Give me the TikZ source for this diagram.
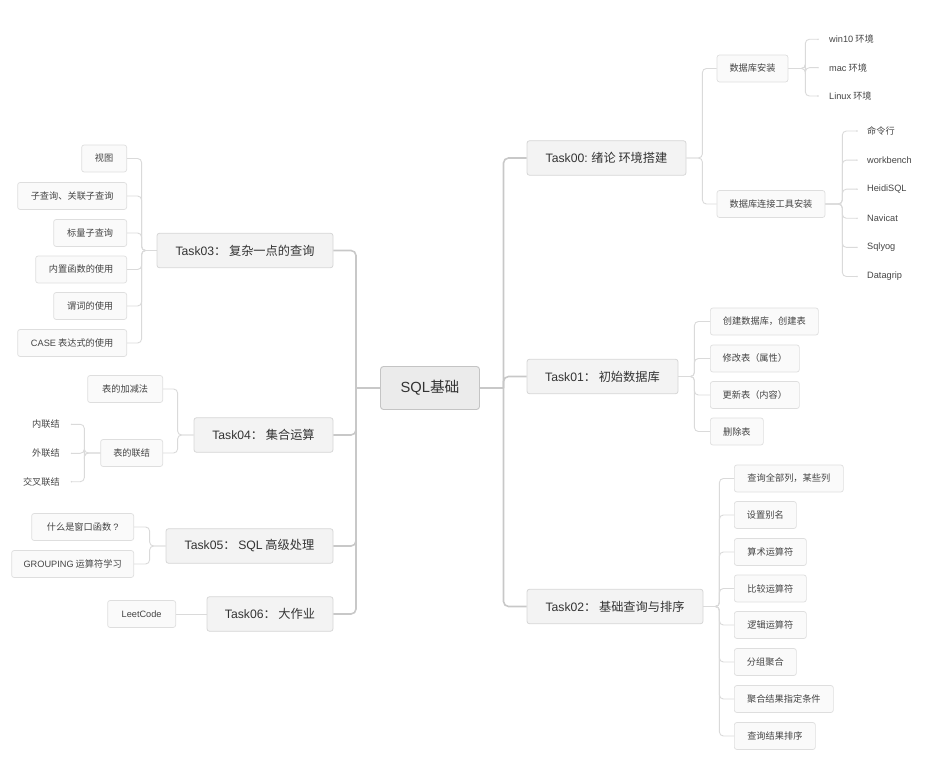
\documentclass[tikz,border=0pt]{standalone}
\usepackage{fontspec}
\setmainfont{Noto Sans CJK SC}
\newfontfamily\latf{Liberation Sans}
\newcommand{\lat}[1]{{\latf #1}}
\usetikzlibrary{calc}
\definecolor{txtc}{HTML}{333333}
\definecolor{leaftxt}{HTML}{444444}
\definecolor{taskfill}{HTML}{F3F3F3}
\definecolor{taskbd}{HTML}{D6D6D6}
\definecolor{rootfill}{HTML}{EBEBEB}
\definecolor{rootbd}{HTML}{C4C4C4}
\definecolor{leaffill}{HTML}{FAFAFA}
\definecolor{leafbd}{HTML}{DEDEDE}
\definecolor{trunkc}{HTML}{C8C8C8}
\definecolor{subc}{HTML}{DADADA}
\begin{document}
\begin{tikzpicture}[x=1pt,y=-1pt,
  rootbox/.style={draw=rootbd,fill=rootfill,rounded corners=3pt,line width=0.9pt,minimum width=99pt,minimum height=43pt,inner sep=0pt,font=\fontsize{14.7}{16}\selectfont,text=txtc},
  task/.style={draw=taskbd,fill=taskfill,rounded corners=2.5pt,line width=0.8pt,minimum height=34.5pt,inner sep=0pt,font=\fontsize{12.2}{14}\selectfont,text=txtc},
  leaf/.style={draw=leafbd,fill=leaffill,rounded corners=2.5pt,line width=0.7pt,minimum height=27pt,inner sep=0pt,font=\fontsize{9.2}{11}\selectfont,text=leaftxt},
  plain/.style={inner sep=0pt,font=\fontsize{9.2}{11}\selectfont,text=leaftxt},
  trunk/.style={draw=trunkc,line width=1.6pt,rounded corners=5pt},
  sub/.style={draw=subc,line width=0.9pt,rounded corners=4pt},
  tip/.style={fill=subc}
]
\useasboundingbox (0,0) rectangle (936,775);

% root
\node[rootbox] (root) at (430,388) {\lat{SQL}基础};

% tasks
\node[task,minimum width=159pt] (t0) at (606.5,158) {\lat{Task00:} 绪论 环境搭建};
\node[task,minimum width=151pt] (t1) at (602.5,376.5) {\lat{Task01}：\ 初始数据库};
\node[task,minimum width=176pt] (t2) at (615,606.5) {\lat{Task02}：\ 基础查询与排序};
\node[task,minimum width=176pt] (t3) at (245,250.5) {\lat{Task03}：\ 复杂一点的查询};
\node[task,minimum width=139pt] (t4) at (263.5,435) {\lat{Task04}：\ 集合运算};
\node[task,minimum width=167pt] (t5) at (249.5,546) {\lat{Task05}：\ \lat{SQL} 高级处理};
\node[task,minimum width=126pt] (t6) at (270,614) {\lat{Task06}：\ 大作业};

% trunks
\coordinate (tr) at (503.5,388);
\coordinate (tl) at (356,388);
\draw[trunk] (root.east) -- (tr);
\draw[trunk] (root.west) -- (tl);
\foreach \t in {t0,t1,t2} \draw[trunk] (tr) |- (\t.west);
\foreach \t in {t3,t4,t5,t6} \draw[trunk] (tl) |- (\t.east);

% Task00 children
\node[leaf,minimum width=71pt] (a1) at (752.5,68.5) {数据库安装};
\node[leaf,minimum width=108pt] (a2) at (771,204) {数据库连接工具安装};
\foreach \c in {a1,a2} \draw[sub] (t0.east) -- ++(16,0) |- (\c.west);

\node[plain,anchor=west] (w1) at (829,39.3) {\lat{win10} 环境};
\node[plain,anchor=west] (w2) at (829,67.7) {\lat{mac} 环境};
\node[plain,anchor=west] (w3) at (829,96) {\lat{Linux} 环境};
\foreach \c in {w1,w2,w3} {
  \draw[sub] (a1.east) -- ++(17,0) |- ([xshift=-11pt]\c.west);
  \fill[tip] ([xshift=-11pt]\c.west) circle (0.8pt);
}
\node[plain,anchor=west] (k1) at (867,131) {命令行};
\node[plain,anchor=west] (k2) at (867,160.1) {\lat{workbench}};
\node[plain,anchor=west] (k3) at (867,189.2) {\lat{HeidiSQL}};
\node[plain,anchor=west] (k4) at (867,218.3) {\lat{Navicat}};
\node[plain,anchor=west] (k5) at (867,247.4) {\lat{Sqlyog}};
\node[plain,anchor=west] (k6) at (867,276.5) {\lat{Datagrip}};
\foreach \c in {k1,k2,k3,k4,k5,k6} {
  \draw[sub] (a2.east) -- ++(17,0) |- ([xshift=-10pt]\c.west);
  \fill[tip] ([xshift=-10pt]\c.west) circle (0.8pt);
}

% Task01 children
\node[leaf,minimum width=108pt,anchor=west] (b1) at (710,321.5) {创建数据库，创建表};
\node[leaf,minimum width=89pt,anchor=west] (b2) at (710,358.5) {修改表（属性）};
\node[leaf,minimum width=89pt,anchor=west] (b3) at (710,395) {更新表（内容）};
\node[leaf,minimum width=53pt,anchor=west] (b4) at (710,431.5) {删除表};
\foreach \c in {b1,b2,b3,b4} \draw[sub] (t1.east) -- ++(16,0) |- (\c.west);

% Task02 children
\node[leaf,minimum width=109pt,anchor=west] (d1) at (734,478.5) {查询全部列，某些列};
\node[leaf,minimum width=62pt,anchor=west] (d2) at (734,515) {设置别名};
\node[leaf,minimum width=72pt,anchor=west] (d3) at (734,552) {算术运算符};
\node[leaf,minimum width=72pt,anchor=west] (d4) at (734,588.5) {比较运算符};
\node[leaf,minimum width=72pt,anchor=west] (d5) at (734,625) {逻辑运算符};
\node[leaf,minimum width=62pt,anchor=west] (d6) at (734,662) {分组聚合};
\node[leaf,minimum width=99pt,anchor=west] (d7) at (734,699) {聚合结果指定条件};
\node[leaf,minimum width=81pt,anchor=west] (d8) at (734,736) {查询结果排序};
\foreach \c in {d1,d2,d3,d4,d5,d6,d7,d8} \draw[sub] (t2.east) -- ++(16,0) |- (\c.west);

% Task03 children
\node[leaf,minimum width=45pt,anchor=east] (e1) at (127,158.5) {视图};
\node[leaf,minimum width=109pt,anchor=east] (e2) at (127,196) {子查询、关联子查询};
\node[leaf,minimum width=73pt,anchor=east] (e3) at (127,233) {标量子查询};
\node[leaf,minimum width=91pt,anchor=east] (e4) at (127,269.5) {内置函数的使用};
\node[leaf,minimum width=73pt,anchor=east] (e5) at (127,306) {谓词的使用};
\node[leaf,minimum width=109pt,anchor=east] (e6) at (127,343) {\lat{CASE} 表达式的使用};
\foreach \c in {e1,e2,e3,e4,e5,e6} \draw[sub] (t3.west) -- ++(-15,0) |- (\c.east);

% Task04 children
\node[leaf,minimum width=75pt,anchor=east] (f1) at (163,389) {表的加减法};
\node[leaf,minimum width=62pt,anchor=east] (f2) at (163,453) {表的联结};
\foreach \c in {f1,f2} \draw[sub] (t4.west) -- ++(-16,0) |- (\c.east);
\node[plain,anchor=east] (g1) at (60,424.3) {内联结};
\node[plain,anchor=east] (g2) at (60,453.3) {外联结};
\node[plain,anchor=east] (g3) at (60,481.7) {交叉联结};
\foreach \c in {g1,g2,g3} {
  \draw[sub] (f2.west) -- ++(-16,0) |- ([xshift=11.5pt]\c.east);
  \fill[tip] ([xshift=11.5pt]\c.east) circle (0.8pt);
}

% Task05 children
\node[leaf,minimum width=102pt,anchor=east] (h1) at (134,527) {什么是窗口函数 \lat{?}};
\node[leaf,minimum width=122pt,anchor=east] (h2) at (134,564) {\lat{GROUPING} 运算符学习};
\foreach \c in {h1,h2} \draw[sub] (t5.west) -- ++(-16,0) |- (\c.east);

% Task06 child
\node[leaf,minimum width=68pt,anchor=east] (i1) at (176,614) {\lat{LeetCode}};
\draw[sub] (t6.west) -- (i1.east);
\end{tikzpicture}
\end{document}
